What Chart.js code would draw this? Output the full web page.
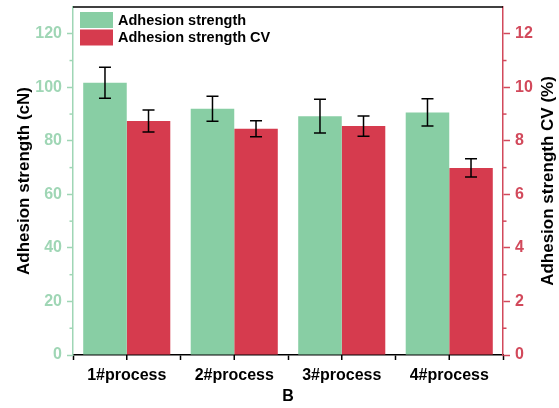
<!DOCTYPE html>
<html>
<head>
<meta charset="utf-8">
<script src="https://cdn.jsdelivr.net/npm/chart.js@4.4.1/dist/chart.umd.min.js"></script>
<style>
  html, body { margin: 0; padding: 0; background: #ffffff; }
  #wrap { width: 559px; height: 408px; }
</style>
</head>
<body>
<div id="wrap"><canvas id="c"></canvas></div>
<script>
// Categories and measured values
const processes = ['1#process', '2#process', '3#process', '4#process'];
const strength = [101.7, 92.0, 89.2, 90.6];        // cN
const strengthErr = [5.8, 4.7, 6.3, 5.1];
const strengthCV = [8.74, 8.45, 8.55, 6.99];       // %
const strengthCVErr = [0.41, 0.30, 0.38, 0.34];

// Axis tick values
const strengthTicks = [0, 20, 40, 60, 80, 100, 120];
const strengthMinor = [10, 30, 50, 70, 90, 110];
const cvTicks = [0, 2, 4, 6, 8, 10, 12];
const cvMinor = [1, 3, 5, 7, 9, 11];
const cvTitle = 'Adhesion strength CV (%)';

const GREEN = '#88cea4';
const GREEN_AXIS = '#9fd6b5';
const RED = '#d63b4e';
const RED_AXIS = '#d2495b';
const FONT = "'Liberation Sans', Arial, sans-serif";

function noScalePadding(s) {
  s.paddingTop = 0; s.paddingBottom = 0;
  s.paddingLeft = 0; s.paddingRight = 0;
}

// Error bars, frame, minor ticks, right-hand title and legend
const decorations = {
  id: 'decorations',
  afterDatasetsDraw(chart) {
    const ctx = chart.ctx;
    ctx.save();
    ctx.strokeStyle = '#000';
    ctx.lineWidth = 1.5;
    chart.data.datasets.forEach((ds, i) => {
      const meta = chart.getDatasetMeta(i);
      const ys = chart.scales[meta.yAxisID];
      meta.data.forEach((bar, j) => {
        const v = ds.data[j], e = ds.errors[j];
        const yt = ys.getPixelForValue(v + e);
        const yb = ys.getPixelForValue(v - e);
        const x = bar.x;
        ctx.beginPath();
        ctx.moveTo(x, yt); ctx.lineTo(x, yb);
        ctx.moveTo(x - 6, yt); ctx.lineTo(x + 6, yt);
        ctx.moveTo(x - 6, yb); ctx.lineTo(x + 6, yb);
        ctx.stroke();
      });
    });
    ctx.restore();
  },
  afterDraw(chart) {
    const ctx = chart.ctx;
    const a = chart.chartArea;
    const xs = chart.scales.x, yl = chart.scales.y, yr = chart.scales.y1;
    ctx.save();
    ctx.lineWidth = 1.5;
    // top frame line
    ctx.strokeStyle = '#000';
    ctx.beginPath();
    ctx.moveTo(a.left, a.top); ctx.lineTo(a.right, a.top);
    ctx.stroke();
    // category centre ticks
    processes.forEach((p, i) => {
      const x = xs.getPixelForValue(i);
      ctx.beginPath();
      ctx.moveTo(x, a.bottom); ctx.lineTo(x, a.bottom + 5);
      ctx.stroke();
    });
    // minor ticks, left
    ctx.strokeStyle = GREEN_AXIS;
    strengthMinor.forEach(v => {
      const y = yl.getPixelForValue(v);
      ctx.beginPath();
      ctx.moveTo(a.left - 3.5, y); ctx.lineTo(a.left, y);
      ctx.stroke();
    });
    // minor ticks, right
    ctx.strokeStyle = RED_AXIS;
    cvMinor.forEach(v => {
      const y = yr.getPixelForValue(v);
      ctx.beginPath();
      ctx.moveTo(a.right, y); ctx.lineTo(a.right + 3.5, y);
      ctx.stroke();
    });
    // right-hand axis title, reading bottom to top
    ctx.save();
    ctx.translate(548, (a.top + a.bottom) / 2);
    ctx.rotate(-Math.PI / 2);
    ctx.font = 'bold 17px ' + FONT;
    ctx.fillStyle = '#000';
    ctx.textAlign = 'center';
    ctx.textBaseline = 'middle';
    ctx.fillText(cvTitle, 0, 0);
    ctx.restore();
    // legend
    ctx.font = 'bold 14.5px ' + FONT;
    ctx.textBaseline = 'middle';
    ctx.textAlign = 'left';
    chart.data.datasets.forEach((ds, i) => {
      const top = a.top + 5 + i * 17.5;
      ctx.fillStyle = ds.backgroundColor;
      ctx.fillRect(a.left + 7, top, 33, 16);
      ctx.fillStyle = '#000';
      ctx.fillText(ds.label, a.left + 45, top + 8.5);
    });
    ctx.restore();
  }
};

new Chart(document.getElementById('c'), {
  type: 'bar',
  data: {
    labels: processes,
    datasets: [
      {
        label: 'Adhesion strength',
        data: strength,
        errors: strengthErr,
        yAxisID: 'y',
        backgroundColor: GREEN,
        categoryPercentage: 0.81,
        barPercentage: 1.0
      },
      {
        label: 'Adhesion strength CV',
        data: strengthCV,
        errors: strengthCVErr,
        yAxisID: 'y1',
        backgroundColor: RED,
        categoryPercentage: 0.81,
        barPercentage: 1.0
      }
    ]
  },
  options: {
    responsive: true,
    maintainAspectRatio: false,
    animation: false,
    devicePixelRatio: 1,
    layout: { padding: { top: 7, left: 0, right: 0, bottom: 0 } },
    plugins: {
      legend: { display: false },
      tooltip: { enabled: false }
    },
    scales: {
      x: {
        offset: true,
        grid: { drawOnChartArea: false, offset: true, tickLength: 5, tickColor: '#000', tickWidth: 1.5 },
        border: { display: true, color: '#000', width: 1.5 },
        ticks: { color: '#000', font: { family: FONT, size: 16, weight: 'bold' }, padding: 6 },
        title: { display: true, text: 'B', color: '#000', font: { family: FONT, size: 16, weight: 'bold' }, padding: { top: 0, bottom: 2 } },
        afterFit(s) { s.height = 53; noScalePadding(s); }
      },
      y: {
        position: 'left',
        min: 0,
        max: 130,
        afterBuildTicks(s) { s.ticks = strengthTicks.map(v => ({ value: v })); },
        grid: { drawOnChartArea: false, tickLength: 6, tickColor: GREEN_AXIS, tickWidth: 1.5 },
        border: { display: true, color: GREEN_AXIS, width: 1.5 },
        ticks: { color: GREEN_AXIS, font: { family: FONT, size: 16, weight: 'bold' }, padding: 5 },
        title: { display: true, text: 'Adhesion strength (cN)', color: '#000', font: { family: FONT, size: 17, weight: 'bold' }, padding: { top: 14, bottom: 0 } },
        afterFit(s) { s.width = 73; noScalePadding(s); }
      },
      y1: {
        position: 'right',
        min: 0,
        max: 13,
        afterBuildTicks(s) { s.ticks = cvTicks.map(v => ({ value: v })); },
        grid: { drawOnChartArea: false, tickLength: 7, tickColor: RED_AXIS, tickWidth: 1.5 },
        border: { display: true, color: RED_AXIS, width: 1.5 },
        ticks: { color: RED_AXIS, font: { family: FONT, size: 16, weight: 'bold' }, padding: 5 },
        title: { display: false },
        afterFit(s) { s.width = 56; noScalePadding(s); }
      }
    }
  },
  plugins: [decorations]
});
</script>
</body>
</html>
